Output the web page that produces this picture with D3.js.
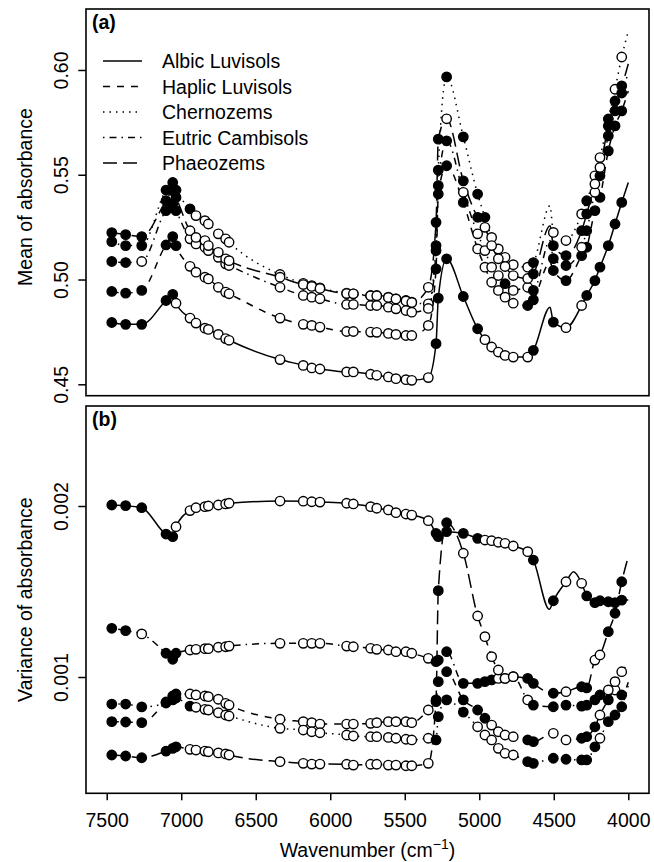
<!DOCTYPE html>
<html>
<head>
<meta charset="utf-8">
<script src="https://cdn.jsdelivr.net/npm/d3@7"></script>
<style>
	body { margin: 0; background: #fff; }
	text { font-family: "Liberation Sans", Arial, sans-serif; }
</style>
</head>
<body>
<div id="chart"></div>
<script>
// wavenumbers (cm-1) of the marked variables, same for every soil group
var markWn = [7466, 7373, 7265, 7102, 7057, 7035, 6941, 6901, 6841, 6818,
	6751, 6702, 6679, 6337, 6181, 6124, 6069, 5890, 5845, 5729,
	5688, 5610, 5559, 5492, 5453, 5342, 5290, 5275, 5219, 5107,
	5011, 4962, 4917, 4872, 4827, 4772, 4675, 4637, 4503, 4418,
	4313, 4279, 4224, 4190, 4134, 4089, 4044]

var soils = ["Albic Luvisols", "Haplic Luvisols", "Chernozems", "Eutric Cambisols", "Phaeozems"]

// (a) mean of absorbance at the marked wavenumbers
var meanAlbic = [0.4795, 0.4786, 0.4786, 0.4900, 0.4929, 0.4887, 0.4816, 0.4792, 0.4768, 0.4762,
	0.4738, 0.4718, 0.4710, 0.4618, 0.4590, 0.4578, 0.4573, 0.4559, 0.4559, 0.4548,
	0.4543, 0.4535, 0.4527, 0.4522, 0.4519, 0.4532, 0.4694, 0.4911, 0.5099, 0.4919,
	0.4765, 0.4713, 0.4678, 0.4654, 0.4638, 0.4630, 0.4630, 0.4662, 0.4797, 0.4770,
	0.4876, 0.4924, 0.4995, 0.5059, 0.5162, 0.5265, 0.5368]
var meanHaplic = [0.4943, 0.4935, 0.4948, 0.5165, 0.5205, 0.5162, 0.5063, 0.5035, 0.5011, 0.5003,
	0.4963, 0.4940, 0.4932, 0.4816, 0.4786, 0.4781, 0.4773, 0.4752, 0.4752, 0.4749,
	0.4748, 0.4743, 0.4738, 0.4733, 0.4733, 0.4781, 0.5051, 0.5408, 0.5543, 0.5368,
	0.5146, 0.5059, 0.4987, 0.4948, 0.4916, 0.4887, 0.4876, 0.4903, 0.5043, 0.4995,
	0.5114, 0.5154, 0.5329, 0.5392, 0.5614, 0.5733, 0.5805]
var meanChern = [0.5181, 0.5162, 0.5162, 0.5427, 0.5463, 0.5427, 0.5337, 0.5305, 0.5281, 0.5265,
	0.5218, 0.5194, 0.5178, 0.5024, 0.4982, 0.4971, 0.4960, 0.4935, 0.4932, 0.4924,
	0.4924, 0.4916, 0.4908, 0.4900, 0.4892, 0.4884, 0.5162, 0.5522, 0.5967, 0.5681,
	0.5408, 0.5297, 0.5201, 0.5146, 0.5106, 0.5071, 0.5059, 0.5081, 0.5225, 0.5186,
	0.5313, 0.5376, 0.5495, 0.5582, 0.5766, 0.5908, 0.6062]
var meanEutric = [0.5086, 0.5081, 0.5086, 0.5329, 0.5360, 0.5329, 0.5194, 0.5170, 0.5154, 0.5138,
	0.5106, 0.5075, 0.5067, 0.4963, 0.4924, 0.4916, 0.4908, 0.4881, 0.4881, 0.4876,
	0.4876, 0.4868, 0.4860, 0.4852, 0.4844, 0.4862, 0.5138, 0.5448, 0.5662, 0.5416,
	0.5218, 0.5138, 0.5059, 0.5019, 0.4980, 0.4948, 0.4963, 0.4948, 0.5100, 0.5067,
	0.5154, 0.5233, 0.5416, 0.5495, 0.5686, 0.5805, 0.5890]
var meanPhaeo = [0.5224, 0.5214, 0.5205, 0.5376, 0.5424, 0.5392, 0.5233, 0.5201, 0.5186, 0.5162,
	0.5130, 0.5099, 0.5090, 0.5011, 0.4976, 0.4967, 0.4957, 0.4933, 0.4932, 0.4922,
	0.4922, 0.4914, 0.4907, 0.4898, 0.4890, 0.4963, 0.5273, 0.5670, 0.5767, 0.5471,
	0.5297, 0.5249, 0.5162, 0.5099, 0.5062, 0.5019, 0.5005, 0.5027, 0.5162, 0.5114,
	0.5233, 0.5313, 0.5456, 0.5535, 0.5733, 0.5852, 0.5924]

// spectrum points between / after the markers (wavenumber, mean)
var meanAlbicExtra = [[4525, 0.4868], [4000, 0.5463]]
var meanHaplicExtra = [[4525, 0.5081], [4000, 0.5900]]
var meanChernExtra = [[4525, 0.5352], [4000, 0.6186]]
var meanEutricExtra = [[4525, 0.5186], [4000, 0.5986]]
var meanPhaeoExtra = [[4525, 0.5257], [4000, 0.6029]]

// 1 = filled marker, 0 = open marker
var meanAlbicFill  = "11111000000000000000000000111110000001100111111"
var meanHaplicFill = "11111100000000000000000000111100000011111111111"
var meanChernFill  = "11111110000000000000000000111111000001000100100"
var meanEutricFill = "11011100000000000000000000111000001001110101111"
var meanPhaeoFill  = "11111100000000000000000000110110000001111100111"

// (b) variance of absorbance, in units of 0.001
var varAlbic = [2.006, 2.002, 1.990, 1.836, 1.821, 1.879, 1.973, 1.990, 1.996, 2.000,
	2.006, 2.012, 2.016, 2.029, 2.028, 2.025, 2.023, 2.016, 2.012, 1.996,
	1.987, 1.977, 1.961, 1.953, 1.947, 1.914, 1.840, 1.821, 1.850, 1.840,
	1.811, 1.801, 1.797, 1.788, 1.782, 1.766, 1.733, 1.684, 1.446, 1.557,
	1.548, 1.474, 1.435, 1.446, 1.440, 1.435, 1.450]
var varHaplic = [0.739, 0.737, 0.733, 0.854, 0.889, 0.901, 0.901, 0.895, 0.889, 0.885,
	0.870, 0.846, 0.836, 0.753, 0.739, 0.733, 0.725, 0.725, 0.725, 0.729,
	0.733, 0.739, 0.739, 0.739, 0.733, 0.807, 0.856, 0.973, 1.031, 0.866,
	0.807, 0.759, 0.719, 0.680, 0.661, 0.651, 0.632, 0.622, 0.671, 0.632,
	0.642, 0.651, 0.709, 0.778, 0.866, 0.924, 0.895]
var varChern = [0.842, 0.842, 0.825, 0.848, 0.866, 0.877, 0.830, 0.823, 0.811, 0.807,
	0.791, 0.778, 0.772, 0.700, 0.690, 0.680, 0.674, 0.661, 0.655, 0.651,
	0.651, 0.647, 0.642, 0.636, 0.632, 0.642, 0.632, 0.768, 0.866, 0.795,
	0.709, 0.661, 0.632, 0.583, 0.554, 0.544, 0.505, 0.495, 0.525, 0.519,
	0.515, 0.515, 0.592, 0.642, 0.739, 0.778, 0.826]
var varEutric = [1.285, 1.271, 1.252, 1.139, 1.104, 1.139, 1.158, 1.162, 1.166, 1.166,
	1.174, 1.177, 1.181, 1.197, 1.197, 1.197, 1.197, 1.181, 1.177, 1.168,
	1.162, 1.158, 1.148, 1.148, 1.139, 1.109, 1.090, 1.099, 1.148, 0.963,
	0.963, 0.973, 0.983, 0.992, 0.992, 1.002, 0.866, 0.836, 0.826, 0.836,
	0.830, 0.836, 0.866, 0.895, 0.924, 0.973, 1.031]
var varPhaeo = [0.544, 0.538, 0.528, 0.567, 0.583, 0.592, 0.577, 0.573, 0.567, 0.563,
	0.556, 0.550, 0.544, 0.505, 0.495, 0.491, 0.491, 0.490, 0.485, 0.490,
	0.490, 0.485, 0.485, 0.481, 0.481, 0.495, 0.866, 1.505, 1.902, 1.724,
	1.357, 1.236, 1.119, 1.041, 0.992, 1.002, 0.992, 0.963, 0.905, 0.914,
	0.943, 0.936, 1.099, 1.129, 1.265, 1.373, 1.557]

var varAlbicExtra = [[4530, 1.396], [4367, 1.616], [4000, 1.450]]
var varHaplicExtra = [[4000, 0.970]]
var varChernExtra = [[4000, 0.950]]
var varEutricExtra = [[4000, 1.080]]
var varPhaeoExtra = [[4000, 1.704]]

var varAlbicFill  = "11111000000000000000000000111110000001100111111"
var varHaplicFill = "11111100000000000000000000111111000011001110101"
var varChernFill  = "11111110000000000000000000111100000011111110111"
var varEutricFill = "11011100000000000000000000111111100001111111000"
var varPhaeoFill  = "11111100000000000000000000111000000011101100111"

var meanTicks = [0.45, 0.50, 0.55, 0.60]
var varTicks = [1, 2]
var wnTicks = [7500, 7000, 6500, 6000, 5500, 5000, 4500, 4000]

// line types: solid, dashed, dotted, dot-dash, long dash
var dashes = [null, "7,7", "1.5,5", "1.5,5,7,5", "14,6"]

var width = 654
var height = 862
var left = 86
var right = 649
var fontSize = 19.5

// svg
var svg = d3.select("#chart")
	.append("svg")
	.attr("width", width)
	.attr("height", height)

var x = d3.scaleLinear().domain([7639, 3861]).range([left, right])
var yMean = d3.scaleLinear().domain([0.44456, 0.6291]).range([395.7, 9])
var yVar = d3.scaleLinear().domain([0.320, 2.5848]).range([793.3, 406])

function makeSeries(vals, fill, extra) {
	var pts = markWn.map(function (w, i) {
		return { wn: w, v: vals[i], mark: true, filled: fill[i] == "1" }
	})
	extra.forEach(function (e) { pts.push({ wn: e[0], v: e[1], mark: false }) })
	pts.sort(function (a, b) { return b.wn - a.wn })
	return pts
}

var meanSeries = [
	makeSeries(meanAlbic, meanAlbicFill, meanAlbicExtra),
	makeSeries(meanHaplic, meanHaplicFill, meanHaplicExtra),
	makeSeries(meanChern, meanChernFill, meanChernExtra),
	makeSeries(meanEutric, meanEutricFill, meanEutricExtra),
	makeSeries(meanPhaeo, meanPhaeoFill, meanPhaeoExtra)
]
var varSeries = [
	makeSeries(varAlbic, varAlbicFill, varAlbicExtra),
	makeSeries(varHaplic, varHaplicFill, varHaplicExtra),
	makeSeries(varChern, varChernFill, varChernExtra),
	makeSeries(varEutric, varEutricFill, varEutricExtra),
	makeSeries(varPhaeo, varPhaeoFill, varPhaeoExtra)
]

function drawPanel(series, y, top, bottom) {
	var g = svg.append("g")
	var line = d3.line()
		.x(function (d) { return x(d.wn) })
		.y(function (d) { return y(d.v) })
		.curve(d3.curveMonotoneX)

	// lines first
	series.forEach(function (pts, i) {
		g.append("path")
			.attr("d", line(pts))
			.attr("fill", "none")
			.attr("stroke", "black")
			.attr("stroke-width", 1.5)
			.attr("stroke-dasharray", dashes[i])
	})

	// then the marked variables
	series.forEach(function (pts) {
		g.selectAll(null)
			.data(pts.filter(function (d) { return d.mark }))
			.enter()
			.append("circle")
			.attr("cx", function (d) { return x(d.wn) })
			.attr("cy", function (d) { return y(d.v) })
			.attr("r", 4.7)
			.attr("fill", function (d) { return d.filled ? "black" : "white" })
			.attr("stroke", "black")
			.attr("stroke-width", 1.4)
	})

	// box
	svg.append("rect")
		.attr("x", left)
		.attr("y", top)
		.attr("width", right - left)
		.attr("height", bottom - top)
		.attr("fill", "none")
		.attr("stroke", "black")
		.attr("stroke-width", 1.6)
}

drawPanel(meanSeries, yMean, 9, 395.7)
drawPanel(varSeries, yVar, 406, 793.3)

// y axes
function yAxis(scale, ticks, fmt) {
	var ax = svg.append("g")
		.attr("transform", "translate(" + left + ",0)")
		.call(d3.axisLeft(scale).tickValues(ticks).tickSize(7.7).tickFormat(fmt))
	ax.select(".domain").remove()
	ax.selectAll("line").attr("stroke-width", 1.5)
	ax.selectAll("text")
		.attr("x", null)
		.attr("dy", null)
		.attr("text-anchor", "middle")
		.attr("transform", "translate(-18,0) rotate(-90)")
		.attr("font-size", fontSize)
		.attr("font-family", "Liberation Sans, Arial, sans-serif")
		.attr("fill", "black")
}
yAxis(yMean, meanTicks, d3.format(".2f"))
yAxis(yVar, varTicks, function (d) { return (d / 1000).toFixed(3) })

// x axis
var xa = svg.append("g")
	.attr("transform", "translate(0,793.3)")
	.call(d3.axisBottom(x).tickValues(wnTicks).tickSize(7).tickFormat(d3.format("d")))
xa.select(".domain").remove()
xa.selectAll("line").attr("stroke-width", 1.5)
xa.selectAll("text")
	.attr("y", 33.4)
	.attr("dy", null)
	.attr("font-size", fontSize)
	.attr("font-family", "Liberation Sans, Arial, sans-serif")
	.attr("fill", "black")

// axis titles
svg.append("text")
	.attr("transform", "translate(32,197) rotate(-90)")
	.attr("text-anchor", "middle")
	.attr("font-size", fontSize)
	.text("Mean of absorbance")

svg.append("text")
	.attr("transform", "translate(32," + ((406 + 793.3) / 2) + ") rotate(-90)")
	.attr("text-anchor", "middle")
	.attr("font-size", fontSize)
	.text("Variance of absorbance")

var xt = svg.append("text")
	.attr("x", (left + right) / 2)
	.attr("y", 857)
	.attr("text-anchor", "middle")
	.attr("font-size", fontSize)
xt.append("tspan").text("Wavenumber (cm")
xt.append("tspan").attr("dy", -8).attr("font-size", 14).text("\u22121")
xt.append("tspan").attr("dy", 8).text(")")

// panel letters
svg.append("text").attr("x", 92).attr("y", 29)
	.attr("font-size", fontSize).attr("font-weight", "bold").text("(a)")
svg.append("text").attr("x", 92).attr("y", 426)
	.attr("font-size", fontSize).attr("font-weight", "bold").text("(b)")

// legend
var leg = svg.append("g")
soils.forEach(function (s, i) {
	var ly = 61 + i * 25.5
	leg.append("line")
		.attr("x1", 103).attr("x2", 142)
		.attr("y1", ly).attr("y2", ly)
		.attr("stroke", "black")
		.attr("stroke-width", 1.5)
		.attr("stroke-dasharray", dashes[i])
	leg.append("text")
		.attr("x", 162)
		.attr("y", ly + 7)
		.attr("font-size", fontSize)
		.text(s)
})
</script>
</body>
</html>
